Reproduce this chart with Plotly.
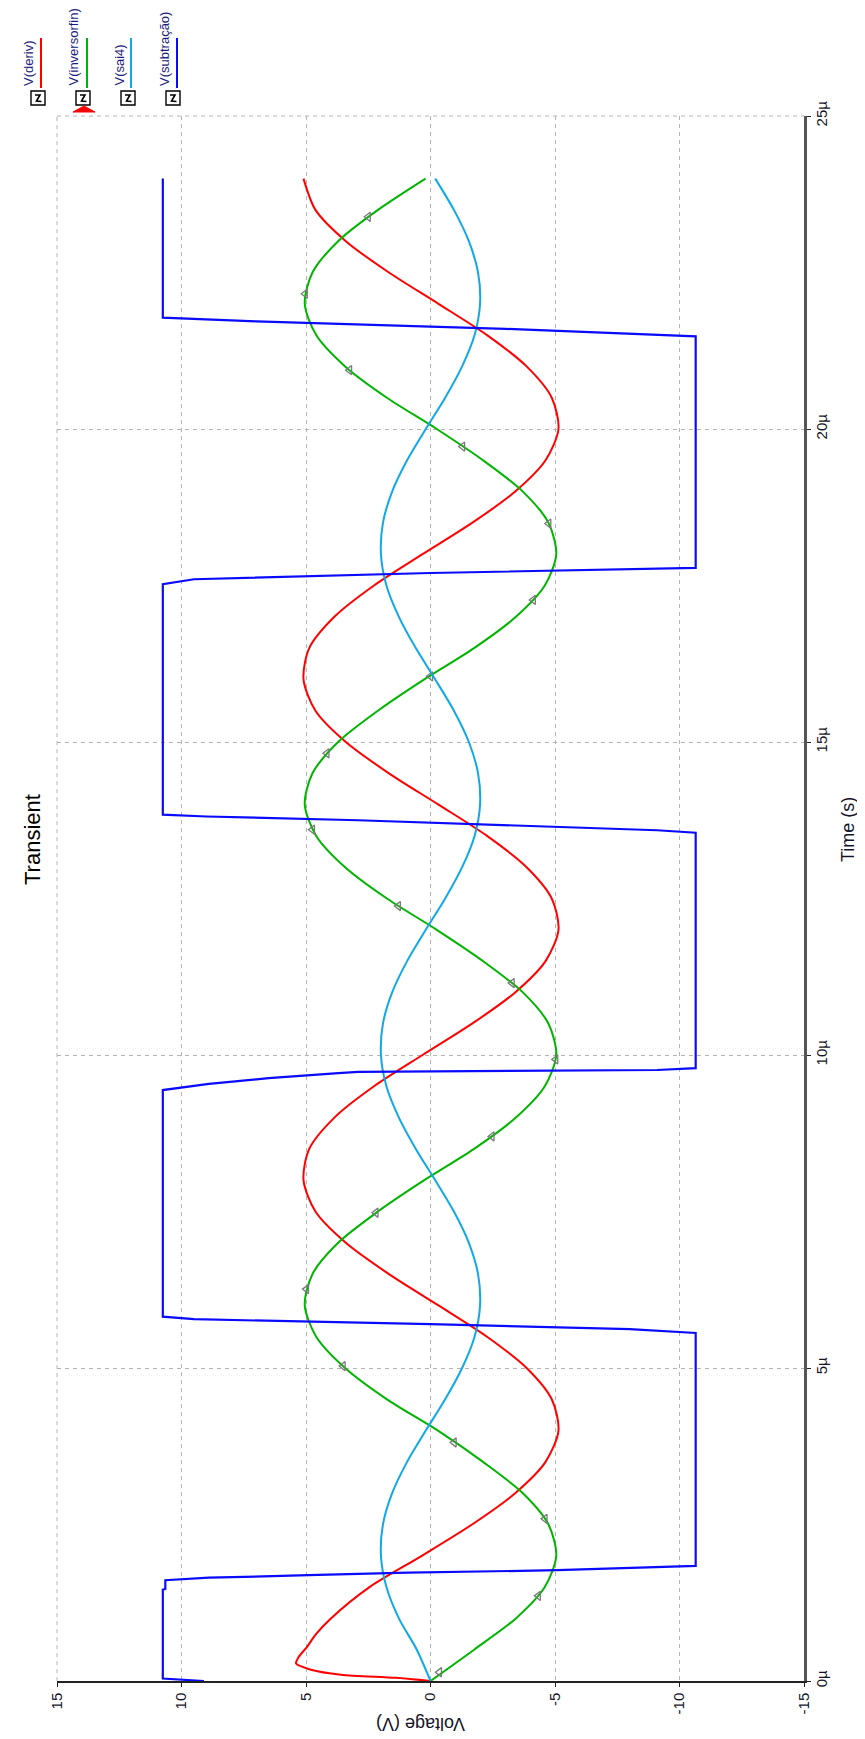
import plotly.graph_objects as go

# ---------------- data ----------------
# time in microseconds, voltage in volts
deriv_t = [0.0, 0.05, 0.1, 0.18, 0.28, 0.38, 0.55, 0.75, 1.0, 1.5, 2.0,
           2.5, 3.0, 3.5, 4.0, 4.5, 5.0, 5.5, 6.0, 6.5, 7.0, 7.5, 8.0,
           8.5, 9.0, 9.5, 10.0, 10.5, 11.0, 11.5, 12.0, 12.5, 13.0, 13.5, 14.0,
           14.5, 15.0, 15.5, 16.0, 16.5, 17.0, 17.5, 18.0, 18.5, 19.0, 19.5, 20.0,
           20.5, 21.0, 21.5, 22.0, 22.5, 23.0, 23.5, 24.0]
deriv_v = [0.0, 1.4, 3.6, 4.8, 5.4, 5.3, 4.95, 4.6, 4.0, 2.45, 0.35,
           -1.67, -3.40, -4.62, -5.14, -4.87, -3.86, -2.27, -0.32, 1.67, 3.40, 4.62, 5.10,
           4.87, 3.86, 2.27, 0.32, -1.67, -3.40, -4.62, -5.14, -4.87, -3.86, -2.27, -0.32,
           1.67, 3.40, 4.62, 5.10, 4.87, 3.86, 2.27, 0.32, -1.67, -3.40, -4.62, -5.14,
           -4.87, -3.86, -2.27, -0.32, 1.67, 3.40, 4.62, 5.10]

grid_t = [0.0, 0.5, 1.0, 1.5, 2.0, 2.5, 3.0, 3.5, 4.0, 4.5, 5.0, 5.5, 6.0, 6.5, 7.0, 7.5,
          8.0, 8.5, 9.0, 9.5, 10.0, 10.5, 11.0, 11.5, 12.0, 12.5, 13.0, 13.5, 14.0, 14.5,
          15.0, 15.5, 16.0, 16.5, 17.0, 17.5, 18.0, 18.5, 19.0, 19.5, 20.0, 20.5, 21.0,
          21.5, 22.0, 22.5, 23.0, 23.5, 24.0]
inversor_v = [0.0, -1.75, -3.43, -4.59, -5.05, -4.74, -3.71, -2.11, -0.30,
              1.75, 3.43, 4.59, 5.05, 4.74, 3.71, 2.11, 0.25,
              -1.75, -3.43, -4.59, -5.05, -4.74, -3.71, -2.11, -0.25,
              1.75, 3.43, 4.59, 5.05, 4.74, 3.71, 2.11, 0.25,
              -1.75, -3.43, -4.59, -5.05, -4.74, -3.71, -2.11, -0.25,
              1.75, 3.43, 4.59, 5.05, 4.74, 3.71, 2.11, 0.20]
sai4_v = [0.0, 0.55, 1.27, 1.77, 1.99, 1.91, 1.54, 0.94, 0.19,
          -0.59, -1.27, -1.77, -1.99, -1.91, -1.54, -0.94, -0.19,
          0.59, 1.27, 1.77, 1.99, 1.91, 1.54, 0.94, 0.19,
          -0.59, -1.27, -1.77, -1.99, -1.91, -1.54, -0.94, -0.19,
          0.59, 1.27, 1.77, 1.99, 1.91, 1.54, 0.94, 0.19,
          -0.59, -1.27, -1.77, -1.99, -1.91, -1.54, -0.94, -0.19]

marker_t = [0.14, 1.36, 2.59, 3.81, 5.03, 6.26, 7.48, 8.70, 9.93, 11.15,
            12.38, 13.60, 14.82, 16.05, 17.27, 18.49, 19.72, 20.94, 22.16, 23.39]
marker_v = [-0.36, -4.33, -4.60, -0.95, 3.51, 4.98, 2.19, -2.47, -5.03, -3.28,
            1.29, 4.74, 4.16, 0.0, -4.13, -4.75, -1.29, 3.25, 5.03, 2.50]

subtr_t = [0.0, 0.04, 1.46, 1.47, 1.61, 1.65, 1.69, 1.73, 1.77, 1.84,
           5.56, 5.62, 5.70, 5.78, 5.82,
           9.44, 9.54, 9.63, 9.71, 9.73, 9.76, 9.79,
           13.55, 13.59, 13.75, 13.81, 13.84,
           17.52, 17.60, 17.70, 17.78,
           21.48, 21.60, 21.72, 21.78, 24.0]
subtr_v = [9.1, 10.75, 10.75, 10.65, 10.65, 8.9, 4.9, 0.9, -5.1, -10.65,
           -10.65, -8.0, 0.0, 9.5, 10.75,
           10.75, 8.9, 6.5, 3.7, 2.9, -9.1, -10.65,
           -10.65, -9.1, 2.9, 9.0, 10.75,
           10.75, 9.5, 0.0, -10.65,
           -10.65, -3.0, 7.0, 10.75, 10.75]

volt_ticks = [15, 10, 5, 0, -5, -10, -15]
volt_labels = ["15", "10", "5", "0", "-5", "-10", "-15"]
time_ticks = [0, 5, 10, 15, 20, 25]
time_labels = ["0µ", "5µ", "10µ", "15µ", "20µ", "25µ"]

series_names = ["V(deriv)", "V(inversorfin)", "V(sai4)", "V(subtração)"]
series_colors = ["#ff0000", "#00b400", "#10a8e8", "#0a0aff"]

# ---------------- geometry helpers ----------------
W, H = 865, 1739
L, R, T, B = 49, 796, 108, 1673


def X(px):
    return (px - L) / (R - L)


def Y(py):
    return (B - py) / (B - T)


FONT = "Liberation Sans, Arial, sans-serif"
TXT = "#141428"

fig = go.Figure()
fig.add_trace(go.Scatter(x=deriv_v, y=deriv_t, mode="lines", name=series_names[0],
                         line=dict(color=series_colors[0], width=2, shape="spline", smoothing=0.8)))
fig.add_trace(go.Scatter(x=inversor_v, y=grid_t, mode="lines", name=series_names[1],
                         line=dict(color=series_colors[1], width=2, shape="spline", smoothing=0.8)))
fig.add_trace(go.Scatter(x=marker_v, y=marker_t, mode="markers", showlegend=False,
                         marker=dict(symbol="triangle-left-open", size=8, color="#7a7a7a",
                                     line=dict(width=1.3, color="#7a7a7a"))))
fig.add_trace(go.Scatter(x=sai4_v, y=grid_t, mode="lines", name=series_names[2],
                         line=dict(color=series_colors[2], width=2, shape="spline", smoothing=0.8)))
fig.add_trace(go.Scatter(x=subtr_v, y=subtr_t, mode="lines", name=series_names[3],
                         line=dict(color=series_colors[3], width=2.2)))

annotations = [
    dict(text="Transient", x=X(24), y=Y(832), textangle=-90, showarrow=False,
         xref="paper", yref="paper", xanchor="center", yanchor="middle",
         font=dict(family=FONT, size=22, color="#000000")),
    dict(text="Time (s)", x=X(840), y=Y(822), textangle=-90, showarrow=False,
         xref="paper", yref="paper", xanchor="center", yanchor="middle",
         font=dict(family=FONT, size=18, color=TXT)),
    dict(text="Voltage (V)", x=X(413), y=Y(1716), textangle=180, showarrow=False,
         xref="paper", yref="paper", xanchor="center", yanchor="middle",
         font=dict(family=FONT, size=18, color=TXT)),
]

shapes = []
leg_text_x = [20, 65, 111, 156]
leg_line_x = [33, 79, 123, 169]
box_x0 = [23, 68, 113, 158]
for i, name in enumerate(series_names):
    annotations.append(dict(text=name, x=X(leg_text_x[i]), y=Y(80), textangle=-90,
                            showarrow=False, xref="paper", yref="paper",
                            xanchor="center", yanchor="bottom",
                            font=dict(family=FONT, size=13, color="#1c1c80")))
    shapes.append(dict(type="line", xref="paper", yref="paper",
                       x0=X(leg_line_x[i]), x1=X(leg_line_x[i]), y0=Y(30), y1=Y(80),
                       line=dict(color=series_colors[i], width=2)))
    bx = box_x0[i]
    shapes.append(dict(type="rect", xref="paper", yref="paper",
                       x0=X(bx), x1=X(bx + 14), y0=Y(83), y1=Y(97),
                       line=dict(color="#000000", width=1.4), fillcolor="#ffffff"))
    path = "M {} {} L {} {} L {} {} L {} {}".format(
        X(bx + 4), Y(87), X(bx + 9), Y(87), X(bx + 5.5), Y(93), X(bx + 10.5), Y(93.5))
    shapes.append(dict(type="path", xref="paper", yref="paper", path=path,
                       line=dict(color="#000000", width=1.6)))

# red selection triangle under second legend box
tri = "M {} {} L {} {} L {} {} Z".format(X(65), Y(104), X(87), Y(104), X(76), Y(98))
shapes.append(dict(type="path", xref="paper", yref="paper", path=tri,
                   fillcolor="#ff0000", line=dict(color="#ff0000", width=1)))

# dashed borders on top and left (grid at range ends)
shapes.append(dict(type="line", xref="paper", yref="paper", x0=0, x1=1, y0=1, y1=1,
                   line=dict(color="#b4b4b4", width=1, dash="4px,4px")))
shapes.append(dict(type="line", xref="paper", yref="paper", x0=0, x1=0, y0=0, y1=1,
                   line=dict(color="#b4b4b4", width=1, dash="4px,4px")))

fig.update_layout(
    width=W, height=H, autosize=False,
    margin=dict(l=L, r=W - R, t=T, b=H - B, pad=0),
    paper_bgcolor="#ffffff", plot_bgcolor="#ffffff",
    showlegend=False,
    annotations=annotations,
    shapes=shapes,
    xaxis=dict(range=[15, -15], tickvals=volt_ticks, ticktext=volt_labels,
               tickangle=-90, showgrid=True, gridcolor="#b4b4b4", gridwidth=1,
               griddash="4px,4px", zeroline=False, showline=True,
               linecolor="#222222", linewidth=1.5, ticks="outside", ticklen=4,
               tickcolor="#222222", tickfont=dict(family=FONT, size=15, color=TXT),
               fixedrange=True),
    yaxis=dict(range=[0, 25], side="right", tickvals=time_ticks, ticktext=time_labels,
               tickangle=-90, showgrid=True, gridcolor="#b4b4b4", gridwidth=1,
               griddash="4px,4px", zeroline=False, showline=True,
               linecolor="#555555", linewidth=2.5, ticks="outside", ticklen=4,
               tickcolor="#222222", tickfont=dict(family=FONT, size=15, color=TXT),
               ticklabelstandoff=-2, fixedrange=True),
)

fig.write_html("out.html")
